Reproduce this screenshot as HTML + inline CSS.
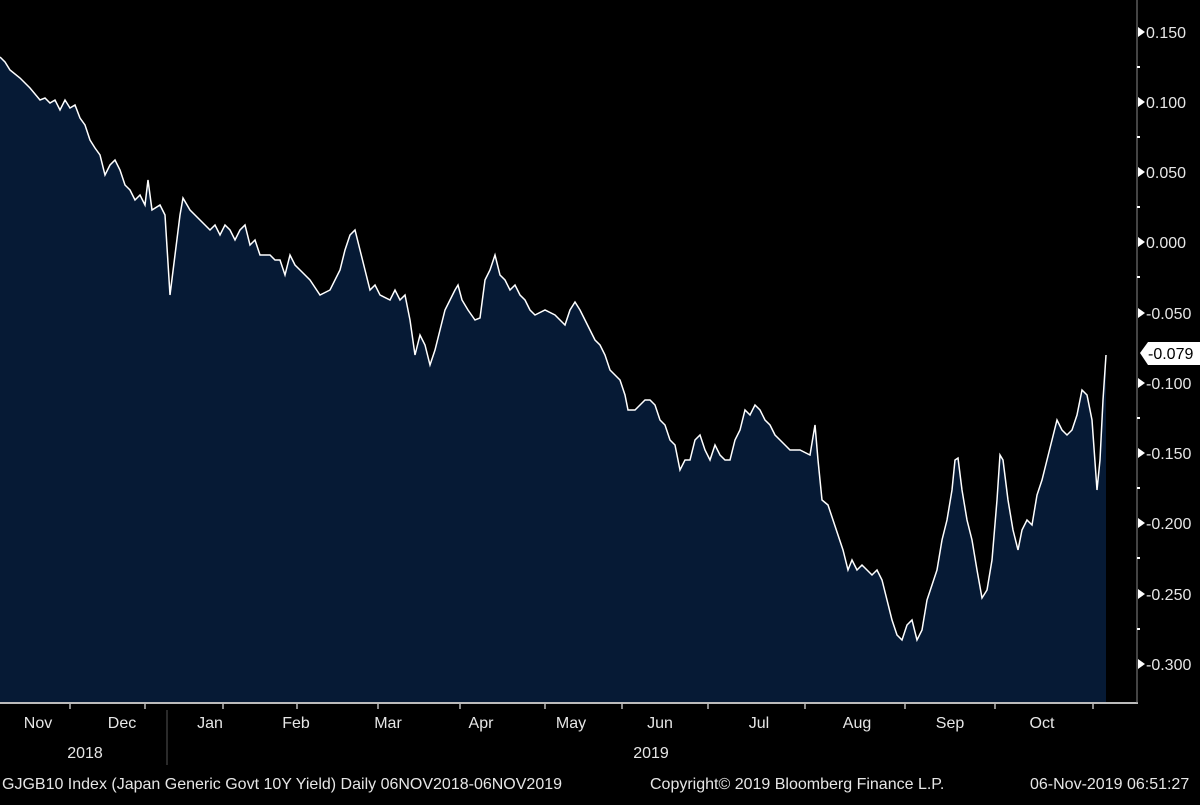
<!DOCTYPE html>
<html><head><style>
body{margin:0;background:#000;width:1200px;height:800px;overflow:hidden}
svg text{font-family:"Liberation Sans Narrow","Liberation Sans",sans-serif;fill:#e6e6e6}
</style></head><body>
<svg width="1200" height="800" viewBox="0 0 1200 800">
<rect width="1200" height="800" fill="#000"/>
<polygon fill="#061a35" points="0,702 0,57 5,62 10,70 20,78 30,88 40,100 45,98 50,103 55,100 60,110 65,100 70,108 75,105 80,118 85,125 90,140 95,148 100,155 105,175 110,165 115,160 120,170 125,185 130,190 135,200 140,195 145,205 148,180 152,210 160,205 165,215 170,295 175,255 180,215 183,198 190,210 200,220 205,225 210,230 215,225 220,235 225,225 230,230 235,240 240,230 245,225 250,245 255,240 260,255 270,255 275,260 280,260 285,275 290,255 295,265 300,270 310,280 320,295 330,290 340,270 345,250 350,235 355,230 360,250 365,270 370,290 375,285 380,295 390,300 395,290 400,300 405,295 410,320 415,355 420,335 425,345 430,365 435,350 440,330 445,310 450,300 455,290 458,285 462,300 468,310 475,320 480,318 485,280 490,270 495,255 500,275 505,280 510,290 515,285 520,295 525,300 530,310 535,315 545,310 555,315 560,320 565,325 570,310 575,302 580,310 585,320 590,330 595,340 600,345 605,355 610,370 615,375 620,380 625,395 628,410 635,410 640,405 645,400 650,400 655,405 660,420 665,425 670,440 675,445 680,470 685,460 690,460 695,440 700,435 705,450 710,460 715,445 720,455 725,460 730,460 735,440 740,430 745,410 750,415 755,405 760,410 765,420 770,425 775,435 780,440 785,445 790,450 800,450 810,455 815,425 818,460 822,500 828,505 833,520 838,535 843,550 848,570 852,560 857,570 862,565 867,570 872,575 877,570 882,580 887,600 892,620 897,635 902,640 907,625 912,620 917,640 922,630 927,600 932,585 937,570 942,540 947,520 952,490 955,460 958,458 962,490 967,520 972,540 977,570 982,598 987,590 992,560 997,500 1000,455 1003,460 1008,500 1013,530 1018,550 1022,530 1027,520 1032,525 1037,495 1042,480 1047,460 1052,440 1057,420 1062,430 1067,435 1072,430 1077,415 1082,390 1087,395 1092,420 1097,490 1100,460 1103,400 1106,355 1106,702"/>
<polyline fill="none" stroke="#fff" stroke-width="1.5" points="0,57 5,62 10,70 20,78 30,88 40,100 45,98 50,103 55,100 60,110 65,100 70,108 75,105 80,118 85,125 90,140 95,148 100,155 105,175 110,165 115,160 120,170 125,185 130,190 135,200 140,195 145,205 148,180 152,210 160,205 165,215 170,295 175,255 180,215 183,198 190,210 200,220 205,225 210,230 215,225 220,235 225,225 230,230 235,240 240,230 245,225 250,245 255,240 260,255 270,255 275,260 280,260 285,275 290,255 295,265 300,270 310,280 320,295 330,290 340,270 345,250 350,235 355,230 360,250 365,270 370,290 375,285 380,295 390,300 395,290 400,300 405,295 410,320 415,355 420,335 425,345 430,365 435,350 440,330 445,310 450,300 455,290 458,285 462,300 468,310 475,320 480,318 485,280 490,270 495,255 500,275 505,280 510,290 515,285 520,295 525,300 530,310 535,315 545,310 555,315 560,320 565,325 570,310 575,302 580,310 585,320 590,330 595,340 600,345 605,355 610,370 615,375 620,380 625,395 628,410 635,410 640,405 645,400 650,400 655,405 660,420 665,425 670,440 675,445 680,470 685,460 690,460 695,440 700,435 705,450 710,460 715,445 720,455 725,460 730,460 735,440 740,430 745,410 750,415 755,405 760,410 765,420 770,425 775,435 780,440 785,445 790,450 800,450 810,455 815,425 818,460 822,500 828,505 833,520 838,535 843,550 848,570 852,560 857,570 862,565 867,570 872,575 877,570 882,580 887,600 892,620 897,635 902,640 907,625 912,620 917,640 922,630 927,600 932,585 937,570 942,540 947,520 952,490 955,460 958,458 962,490 967,520 972,540 977,570 982,598 987,590 992,560 997,500 1000,455 1003,460 1008,500 1013,530 1018,550 1022,530 1027,520 1032,525 1037,495 1042,480 1047,460 1052,440 1057,420 1062,430 1067,435 1072,430 1077,415 1082,390 1087,395 1092,420 1097,490 1100,460 1103,400 1106,355"/>
<line x1="0" y1="703" x2="1138" y2="703" stroke="#bbb" stroke-width="2"/>
<line x1="1137" y1="0" x2="1137" y2="703" stroke="#888" stroke-width="1"/>
<g stroke="#bbb" stroke-width="1.5">
<line x1="70" y1="703" x2="70" y2="709"/><line x1="145" y1="703" x2="145" y2="709"/><line x1="223" y1="703" x2="223" y2="709"/><line x1="297" y1="703" x2="297" y2="709"/><line x1="378" y1="703" x2="378" y2="709"/><line x1="460" y1="703" x2="460" y2="709"/><line x1="545" y1="703" x2="545" y2="709"/><line x1="622" y1="703" x2="622" y2="709"/><line x1="708" y1="703" x2="708" y2="709"/><line x1="805" y1="703" x2="805" y2="709"/><line x1="905" y1="703" x2="905" y2="709"/><line x1="995" y1="703" x2="995" y2="709"/><line x1="1093" y1="703" x2="1093" y2="709"/>
</g>
<line x1="167" y1="710" x2="167" y2="765" stroke="#555" stroke-width="1"/>
<g fill="#fff">
<polygon points="1138,27 1145,32 1138,37"/><polygon points="1138,97 1145,102 1138,107"/><polygon points="1138,167 1145,172 1138,177"/><polygon points="1138,237 1145,242 1138,247"/><polygon points="1138,308 1145,313 1138,318"/><polygon points="1138,378 1145,383 1138,388"/><polygon points="1138,448 1145,453 1138,458"/><polygon points="1138,518 1145,523 1138,528"/><polygon points="1138,589 1145,594 1138,599"/><polygon points="1138,659 1145,664 1138,669"/>
<rect x="1137" y="66" width="3" height="2"/><rect x="1137" y="136" width="3" height="2"/><rect x="1137" y="206" width="3" height="2"/><rect x="1137" y="276" width="3" height="2"/><rect x="1137" y="417" width="3" height="2"/><rect x="1137" y="487" width="3" height="2"/><rect x="1137" y="557" width="3" height="2"/><rect x="1137" y="628" width="3" height="2"/>
</g>
<g font-size="16">
<text x="1146" y="38">0.150</text><text x="1146" y="108">0.100</text><text x="1146" y="178">0.050</text><text x="1146" y="248">0.000</text>
<text x="1146" y="319">-0.050</text><text x="1146" y="389">-0.100</text><text x="1146" y="459">-0.150</text><text x="1146" y="529">-0.200</text><text x="1146" y="600">-0.250</text><text x="1146" y="670">-0.300</text>
</g>
<polygon points="1140,353 1148,342 1200,342 1200,365 1148,365" fill="#fff"/>
<text x="1148" y="359" font-size="16" style="fill:#000">-0.079</text>
<g font-size="16" text-anchor="middle">
<text x="38" y="728">Nov</text><text x="122" y="728">Dec</text><text x="210" y="728">Jan</text><text x="296" y="728">Feb</text><text x="388" y="728">Mar</text><text x="481" y="728">Apr</text><text x="571" y="728">May</text><text x="660" y="728">Jun</text><text x="759" y="728">Jul</text><text x="857" y="728">Aug</text><text x="950" y="728">Sep</text><text x="1042" y="728">Oct</text>
<text x="85" y="758">2018</text><text x="651" y="758">2019</text>
</g>
<g font-size="16">
<text x="2" y="789">GJGB10 Index (Japan Generic Govt 10Y Yield)  Daily 06NOV2018-06NOV2019</text>
<text x="650" y="789">Copyright© 2019 Bloomberg Finance L.P.</text>
<text x="1030" y="789">06-Nov-2019 06:51:27</text>
</g>
</svg>
</body></html>
